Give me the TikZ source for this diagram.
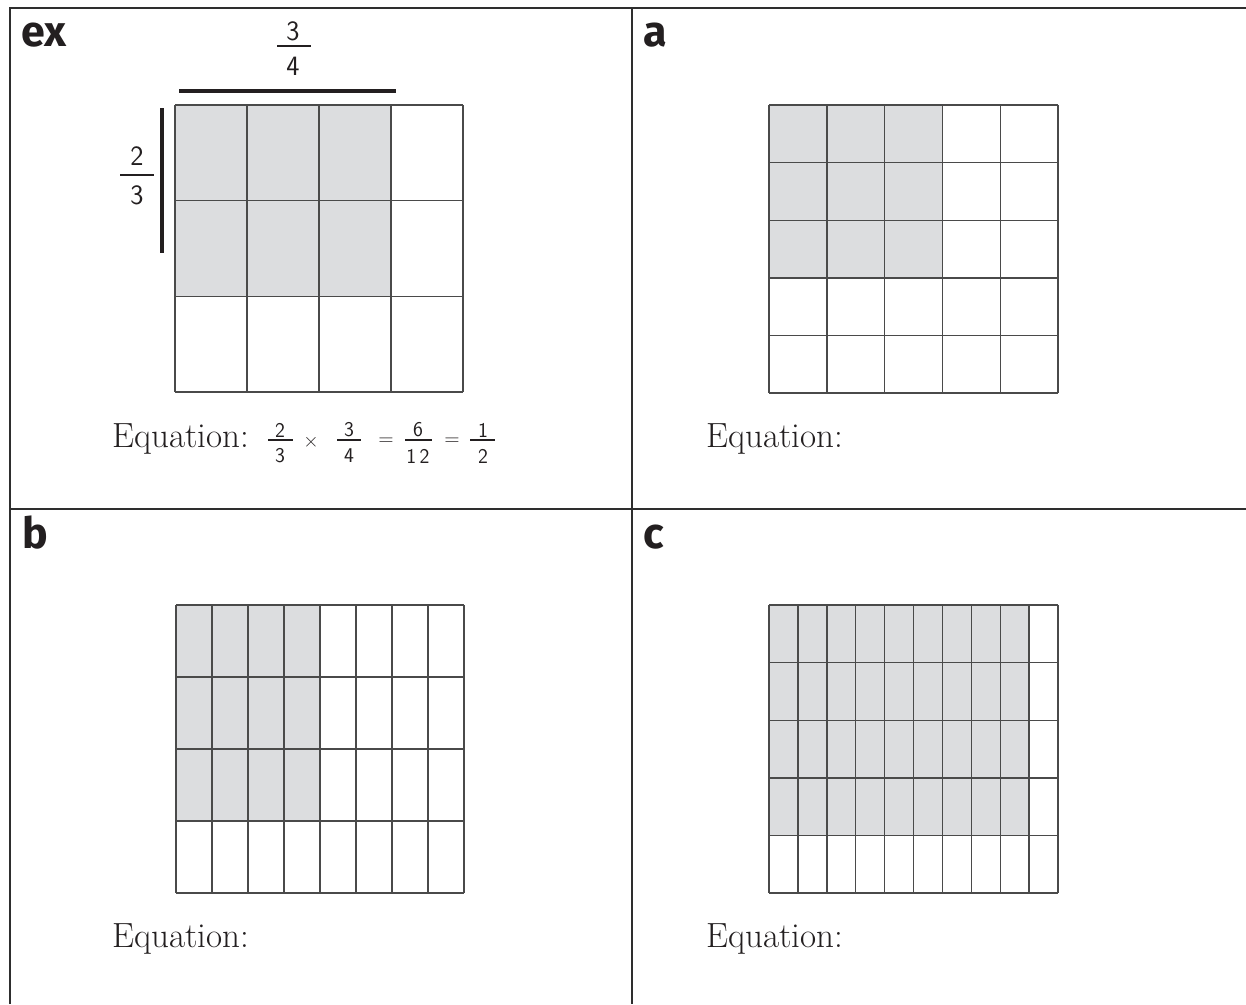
\documentclass[tikz,border=0pt]{standalone}
\usepackage{fontspec}
\newfontfamily\labelfont{Fira Sans}
\definecolor{cellgray}{HTML}{DCDDDF}
\definecolor{gridcol}{HTML}{4A4A4A}
\definecolor{bordercol}{HTML}{2E2E2E}
\definecolor{inkcol}{HTML}{231F20}
\tikzset{
  gridline/.style={draw=gridcol, line width=1.4pt},
  shadecell/.style={fill=cellgray},
  frame/.style={draw=bordercol, line width=1.8pt},
  thickbar/.style={draw=inkcol, line width=4pt},
  fracbar/.style={draw=inkcol, line width=1.2pt},
  panellabel/.style={anchor=base west, inner sep=0pt, text=inkcol, font=\labelfont\bfseries\fontsize{43}{46}\selectfont},
  eqlabel/.style={anchor=base west, inner sep=0pt, text=inkcol, font=\fontsize{35}{40}\selectfont},
  bigdigit/.style={inner sep=0pt, text=inkcol, font=\sffamily\fontsize{28}{32}\selectfont},
  smalldigit/.style={inner sep=0pt, text=inkcol, font=\sffamily\fontsize{21}{24}\selectfont},
}
\newcommand\gridpanel[8]{%
  \pgfmathsetmacro\mygw{(#3-#1)/#5}%
  \pgfmathsetmacro\mygh{(#4-#2)/#6}%
  \fill[shadecell] (#1,#2) rectangle ({#1+#7*\mygw},{#2+#8*\mygh});%
  \foreach \i in {0,...,#5} {\draw[gridline] ({#1+\i*\mygw},#2) -- ({#1+\i*\mygw},#4);}%
  \foreach \j in {0,...,#6} {\draw[gridline] (#1,{#2+\j*\mygh}) -- (#3,{#2+\j*\mygh});}%
}
\begin{document}
\begin{tikzpicture}[x=1pt,y=-1pt]
\useasboundingbox (0,0) rectangle (1246,1004);
\fill[white] (0,0) rectangle (1246,1004);
% frame
\draw[frame] (10,1004) -- (10,8) -- (1246,8);
\draw[frame] (632,8) -- (632,1004);
\draw[frame] (10,509) -- (1246,509);
% panel labels
\node[panellabel] (lex) at (21,46) {ex};
\node[panellabel] (la) at (643,46) {a};
\node[panellabel] (lb) at (22,548) {b};
\node[panellabel] (lc) at (643,548) {c};
% grids
\gridpanel{175}{105}{463}{392}{4}{3}{3}{2}
\gridpanel{769}{105}{1058}{393}{5}{5}{3}{3}
\gridpanel{176}{605}{464}{893}{8}{4}{4}{3}
\gridpanel{769}{605}{1058}{893}{10}{5}{9}{4}
% example bars and fractions
\draw[thickbar] (179,91) -- (396,91);
\draw[thickbar] (162,108) -- (162,253);
\node[bigdigit] (tn) at (293,31) {3};
\draw[fracbar] (277,46) -- (311,46);
\node[bigdigit] (td) at (293,66) {4};
\node[bigdigit] (sn) at (137,156) {2};
\draw[fracbar] (120,175) -- (154,175);
\node[bigdigit] (sd) at (137,195) {3};
% equations
\node[eqlabel] (eqx) at (112,447) {Equation:};
\node[eqlabel] (eqa) at (706,447) {Equation:};
\node[eqlabel] (eqb) at (112,947) {Equation:};
\node[eqlabel] (eqc) at (706,947) {Equation:};
% example equation fractions
\node[smalldigit] (f1n) at (280,430) {2};
\draw[fracbar] (268,440) -- (293,440);
\node[smalldigit] (f1d) at (280,456) {3};
\node[smalldigit] (times) at (311,442) {×};
\node[smalldigit] (f2n) at (349,430) {3};
\draw[fracbar] (337,440) -- (361,440);
\node[smalldigit] (f2d) at (349,456) {4};
\node[smalldigit] (eq1) at (386,442) {=};
\node[smalldigit] (f3n) at (418,430) {6};
\draw[fracbar] (405,440) -- (432,440);
\node[smalldigit] (f3d) at (418,456) {1\,2};
\node[smalldigit] (eq2) at (452,442) {=};
\node[smalldigit] (f4n) at (483,430) {1};
\draw[fracbar] (470,440) -- (495,440);
\node[smalldigit] (f4d) at (483,456) {2};
\end{tikzpicture}
\end{document}
